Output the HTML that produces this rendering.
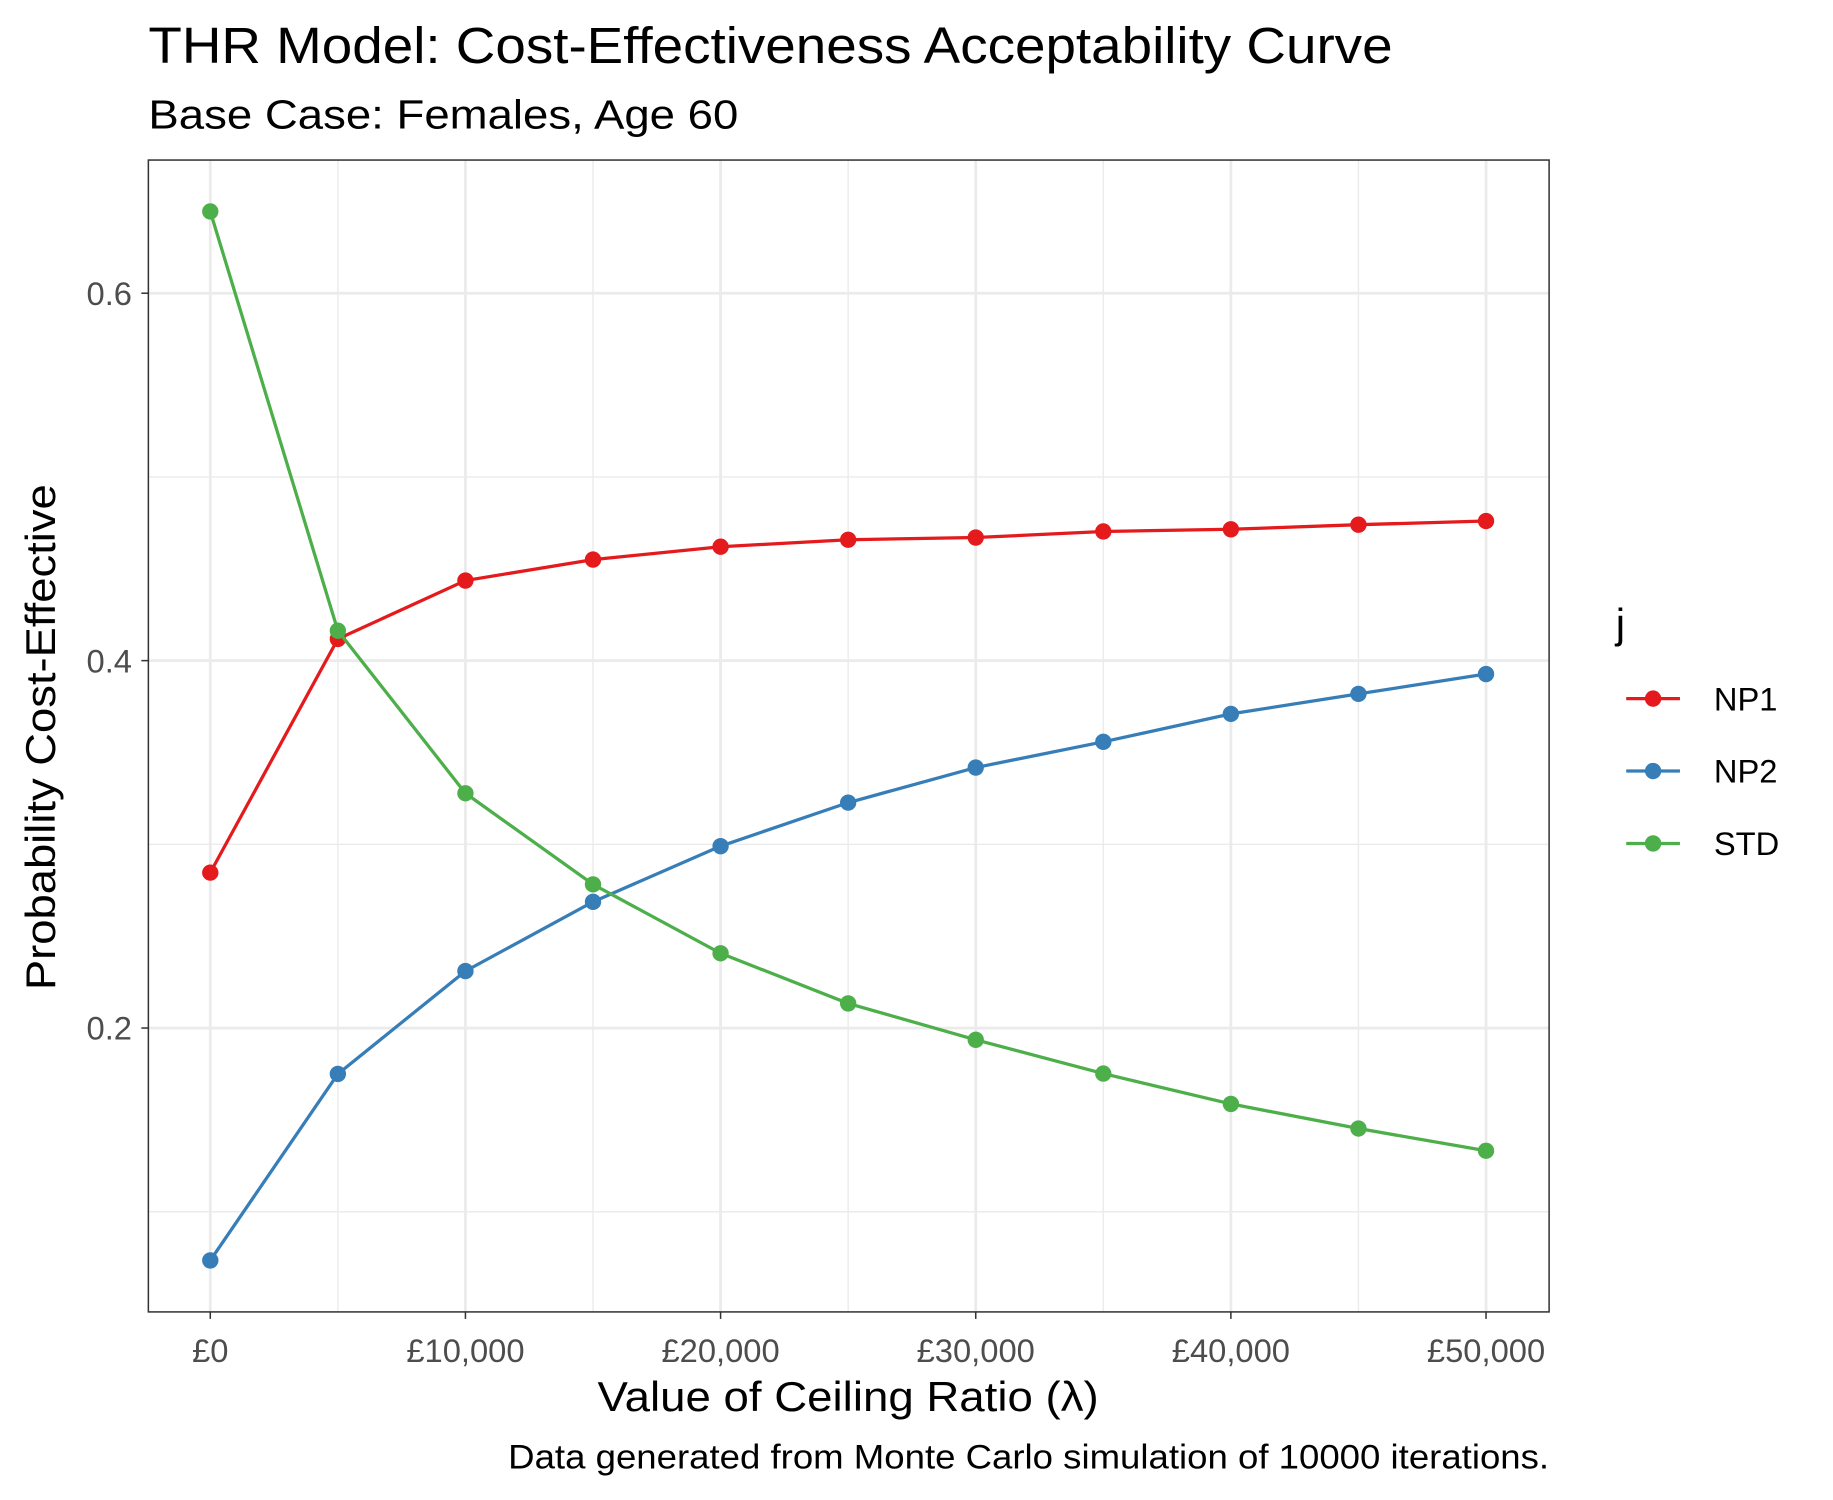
<!DOCTYPE html>
<html><head><meta charset="utf-8"><style>
html,body{margin:0;padding:0;background:#fff;}
svg{display:block;font-family:"Liberation Sans",Arial,sans-serif;}
</style></head><body>
<svg id="chart" width="1833" height="1500" viewBox="0 0 1569 1284" preserveAspectRatio="none" xmlns="http://www.w3.org/2000/svg">
<rect width="1569" height="1284" fill="#fff"/>
<text x="127" y="54" font-size="44" textLength="1065" lengthAdjust="spacingAndGlyphs" fill="#000">THR Model: Cost-Effectiveness Acceptability Curve</text>
<text x="127" y="110" font-size="35" textLength="505" lengthAdjust="spacingAndGlyphs" fill="#000">Base Case: Females, Age 60</text>
<g id="grid"></g>
<g id="series"></g>
<rect x="127" y="137" width="1199" height="986" fill="none" stroke="#333" stroke-width="1.3"/>
<g id="axes"></g>
<text x="726" y="1208" font-size="36" textLength="429" lengthAdjust="spacingAndGlyphs" text-anchor="middle" fill="#000">Value of Ceiling Ratio (λ)</text>
<text transform="translate(47,631) rotate(-90)" font-size="36" textLength="433" lengthAdjust="spacingAndGlyphs" text-anchor="middle" fill="#000">Probability Cost-Effective</text>
<text x="1326" y="1257" font-size="29" textLength="891" lengthAdjust="spacingAndGlyphs" text-anchor="end" fill="#000">Data generated from Monte Carlo simulation of 10000 iterations.</text>
<g id="legend"></g>
</svg>
<script>
const lambdas = [0,5000,10000,15000,20000,25000,30000,35000,40000,45000,50000];
const np1 = [0.2846,0.4118,0.4436,0.455,0.462,0.4658,0.467,0.4703,0.4715,0.474,0.476];
const np2 = [0.0735,0.175,0.231,0.2687,0.299,0.3227,0.3418,0.3558,0.371,0.3819,0.3927];
const std = [0.6445,0.4163,0.3278,0.2782,0.2407,0.2134,0.1936,0.1752,0.1587,0.1453,0.1332];
const seriesNames = ["NP1","NP2","STD"];
const xTicks = [0,10000,20000,30000,40000,50000];
const xTickLabels = ["£0","£10,000","£20,000","£30,000","£40,000","£50,000"];
const yTicks = [0.2,0.4,0.6];
const yTickLabels = ["0.2","0.4","0.6"];
const yMinor = [0.1,0.3,0.5];

const NS="http://www.w3.org/2000/svg";
const X0=127,X1=1326,Y0=137,Y1=1123;
const xs=v=>180+(v-0)*(1272-180)/50000;
const ys=v=>880-(v-0.2)*(880-251)/0.4;
function mk(tag,attrs,parent){const e=document.createElementNS(NS,tag);for(const k in attrs)e.setAttribute(k,attrs[k]);parent.appendChild(e);return e;}
const grid=document.getElementById('grid'),axes=document.getElementById('axes'),ser=document.getElementById('series'),leg=document.getElementById('legend');
mk('rect',{x:X0,y:Y0,width:X1-X0,height:Y1-Y0,fill:'#fff'},grid);
yMinor.forEach(v=>{const l=mk('line',{x1:X0,x2:X1,y1:ys(v),y2:ys(v),stroke:'#ebebeb','stroke-width':1.2},grid);

});
lambdas.forEach((v,i)=>{if(i%2===1){const l=mk('line',{x1:xs(v),x2:xs(v),y1:Y0,y2:Y1,stroke:'#ebebeb','stroke-width':1.2},grid);

}});
yTicks.forEach((v,i)=>{const l=mk('line',{x1:X0,x2:X1,y1:ys(v),y2:ys(v),stroke:'#ebebeb','stroke-width':2.4},grid);


const t=mk('line',{x1:X0-6,x2:X0,y1:ys(v),y2:ys(v),stroke:'#333','stroke-width':1.3},axes);


const tx=mk('text',{x:X0-14,y:ys(v)+10,'font-size':28,'text-anchor':'end',fill:'#4d4d4d'},axes);tx.textContent=yTickLabels[i];

});
xTicks.forEach((v,i)=>{const l=mk('line',{x1:xs(v),x2:xs(v),y1:Y0,y2:Y1,stroke:'#ebebeb','stroke-width':2.4},grid);


const t=mk('line',{x1:xs(v),x2:xs(v),y1:Y1,y2:Y1+6,stroke:'#333','stroke-width':1.3},axes);


const tx=mk('text',{x:xs(v),y:Y1+43,'font-size':28,'text-anchor':'middle',fill:'#4d4d4d'},axes);tx.textContent=xTickLabels[i];

});
const colors=["#e41a1c","#377eb8","#4daf4a"];
[np1,np2,std].forEach((d,si)=>{
const g=mk('g',{},ser);


const p=mk('polyline',{points:d.map((v,i)=>xs(lambdas[i])+','+ys(v)).join(' '),fill:'none',stroke:colors[si],'stroke-width':2.8},g);


d.forEach((v,i)=>{const c=mk('circle',{cx:xs(lambdas[i]),cy:ys(v),r:7,fill:colors[si]},g);

});
});
const lt=mk('text',{x:1383,y:546,'font-size':36,fill:'#000'},leg);lt.textContent='j';


seriesNames.forEach((n,i)=>{const y=598+i*62;
const g=mk('g',{},leg);


mk('line',{x1:1392,x2:1438,y1:y,y2:y,stroke:colors[i],'stroke-width':2.8},g);
mk('circle',{cx:1415,cy:y,r:7,fill:colors[i]},g);
const t=mk('text',{x:1467,y:y+10,'font-size':28,fill:'#000'},g);t.textContent=n;});
</script>
</body></html>
